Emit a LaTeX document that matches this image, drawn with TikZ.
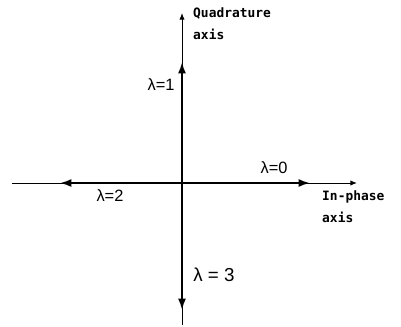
\documentclass[tikz,border=0pt]{standalone}
\usepackage{fontspec}
\setmainfont{Liberation Sans}
\setmonofont{DejaVu Sans Mono}
\usetikzlibrary{arrows.meta,positioning}
\tikzset{
  axisline/.style={-{Latex[length=2mm,width=1.6mm]},line width=0.8pt,draw=black},
  phasor/.style={-{Latex[length=3.4mm,width=2.4mm]},line width=1.7pt,draw=black},
  axlabel/.style={font=\ttfamily\bfseries\fontsize{11}{19}\selectfont,align=left,inner sep=0pt,anchor=north west},
  lamlabel/.style={font=\fontsize{14}{16}\selectfont,inner sep=0pt},
}

\begin{document}
\begin{tikzpicture}[x=0.03cm,y=0.03cm]
  \useasboundingbox (-182,-143) rectangle (219,183);
  \coordinate (o) at (0,0);
  % axes
  \coordinate (qbot) at (0,-142);
  \coordinate (qtop) at (0,170);
  \coordinate (ileft) at (-170,0);
  \coordinate (iright) at (175,0);
  \draw[axisline] (qbot) -- (qtop);
  \draw[axisline] (ileft) -- (iright);
  % phasor ends
  \coordinate (p0) at (128,0);
  \coordinate (p1) at (0,121);
  \coordinate (p2) at (-122,0);
  \coordinate (p3) at (0,-127);
  \draw[phasor] (o) -- (p0);
  \draw[phasor] (o) -- (p1);
  \draw[phasor] (o) -- (p2);
  \draw[phasor] (o) -- (p3);
  % labels
  \node[axlabel] (qlab) at (11,176) {Quadrature\\axis};
  \node[axlabel] (ilab) at (140,-7) {In-phase\\axis};
  \node[lamlabel] (l0) at (92,15) {λ=0};
  \node[lamlabel] (l1) at (-21,98) {λ=1};
  \node[lamlabel] (l2) at (-72,-13) {λ=2};
  \node[lamlabel,font=\fontsize{16}{18}\selectfont] (l3) at (32,-92) {λ = 3};
\end{tikzpicture}
\end{document}
